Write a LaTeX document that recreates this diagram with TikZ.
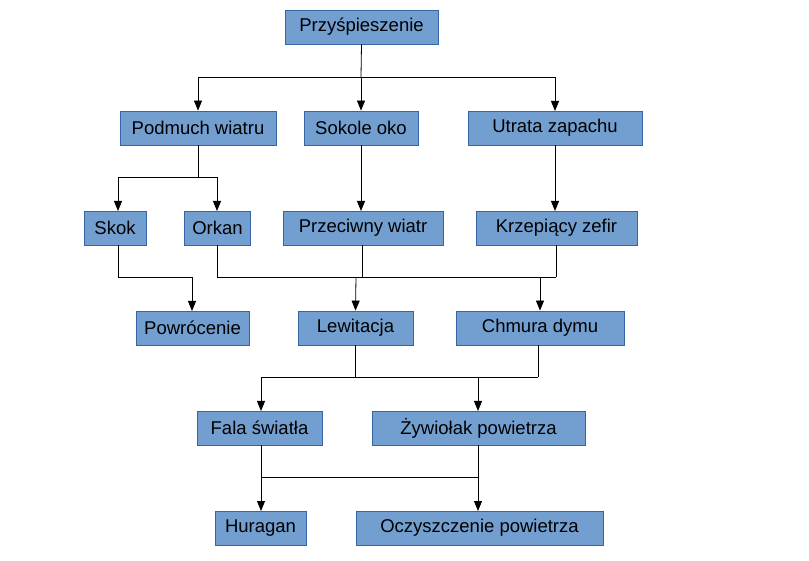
\documentclass[tikz,border=0pt]{standalone}
\usepackage{fontspec}
\setmainfont{Liberation Sans}
\usetikzlibrary{arrows.meta}
\definecolor{boxfill}{HTML}{729FCF}
\definecolor{boxline}{HTML}{3465A4}
\begin{document}
\begin{tikzpicture}[x=1pt,y=-1pt,
  bx/.style={draw=boxline,fill=boxfill,line width=0.8pt,inner sep=0pt,minimum height=34pt,font=\fontsize{18.5}{20}\selectfont},
  ln/.style={line width=0.8pt,black},
  ar/.style={ln,-{Triangle[length=10pt,width=8pt]}}]
\useasboundingbox (0,0) rectangle (809,561);
\node[bx,minimum width=153pt] (A) at (361.5,27) {Przyśpieszenie};
\node[bx,minimum width=156pt] (B) at (198,128) {Podmuch wiatru};
\node[bx,minimum width=114pt] (C) at (361,128) {Sokole oko};
\node[bx,minimum width=174pt] (D) at (555,128) {Utrata zapachu};
\node[bx,minimum width=62pt] (E) at (115,228) {Skok};
\node[bx,minimum width=66pt] (F) at (217.5,228) {Orkan};
\node[bx,minimum width=160pt] (G) at (363,228) {Przeciwny wiatr};
\node[bx,minimum width=161pt] (H) at (556.5,228) {Krzepiący zefir};
\node[bx,minimum width=113pt] (I) at (192.5,328) {Powrócenie};
\node[bx,minimum width=115pt] (J) at (355.5,328) {Lewitacja};
\node[bx,minimum width=168pt] (K) at (540,328) {Chmura dymu};
\node[bx,minimum width=125pt] (L) at (259.5,428) {Fala światła};
\node[bx,minimum width=213pt] (M) at (478.5,428) {Żywiołak powietrza};
\node[bx,minimum width=91pt] (N) at (260.5,528) {Huragan};
\node[bx,minimum width=247pt] (O) at (479.5,528) {Oczyszczenie powietrza};
% row 1 -> 2
\coordinate (j1) at (361,77);
\draw[ln] (A.south) -- (j1);
\draw[ar] (j1) -| (B.north);
\draw[ar] (j1) -- (C.north);
\draw[ar] (j1) -| (555,111) coordinate (dN);
% row 2 -> 3
\coordinate (j2) at (198,177);
\draw[ln] (B.south) -- (j2);
\draw[ar] (j2) -| (118,211) coordinate (eN);
\draw[ar] (j2) -| (217,211) coordinate (fN);
\draw[ar] (C.south) -- (361,211) coordinate (gN);
\draw[ar] (D.south) -- (555,211) coordinate (hN);
% row 3 -> 4
\draw[ar] (118,245) coordinate (eS) |- (192,277) -- (192,311) coordinate (iN);
\draw[ln] (217,245) coordinate (fS) |- (556,277) coordinate (j3);
\draw[ln] (362,245) coordinate (gS) -- (362,277);
\draw[ln] (556,245) coordinate (hS) -- (j3);
\draw[ar] (356,277) -- (J.north);
\draw[ar] (540,277) -- (K.north);
% row 4 -> 5
\draw[ln] (355,345) coordinate (jS) |- (538,377) coordinate (j4);
\draw[ln] (538,345) coordinate (kS) -- (j4);
\draw[ar] (478,377) -| (261,411) coordinate (lN);
\draw[ar] (478,377) -- (478,411) coordinate (mN);
% row 5 -> 6
\draw[ln] (261,445) coordinate (lS) |- (478,477) coordinate (j5);
\draw[ln] (478,445) coordinate (mS) -- (j5);
\draw[ar] (261,477) -- (261,511) coordinate (nN);
\draw[ar] (478,477) -- (478,511) coordinate (oN);
\end{tikzpicture}
\end{document}
